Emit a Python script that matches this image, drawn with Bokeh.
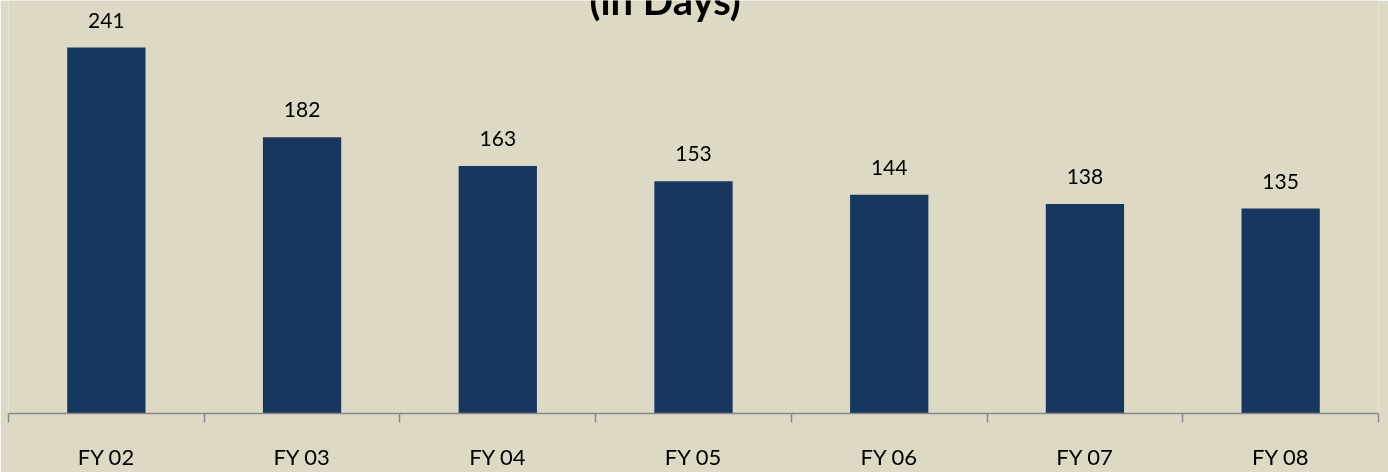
from bokeh.plotting import figure
from bokeh.models import FixedTicker, Range1d, ColumnDataSource, LabelSet, Label
from bokeh.embed import file_html
from bokeh.resources import INLINE
from bokeh.core.properties import value

categories = ["FY 02", "FY 03", "FY 04", "FY 05", "FY 06", "FY 07", "FY 08"]
days = [241, 182, 163, 153, 144, 138, 135]
title_text = "(in Days)"

BG = "#DDD9C4"
BAR = "#17375E"
AXIS = "#898989"
FONT = "Lato"

n = len(categories)
xs = list(range(n))
source = ColumnDataSource(dict(x=xs, top=days, label=[str(v) for v in days]))

p = figure(width=1388, height=472, output_backend="svg", toolbar_location=None,
           x_range=Range1d(-0.5, n - 0.5), y_range=Range1d(0, 272),
           min_border_left=8, min_border_right=10, min_border_top=0, min_border_bottom=59,
           background_fill_color=BG, border_fill_color=BG, outline_line_color=None)
p.styles = {"position": "fixed", "left": "0px", "top": "0px"}

p.vbar(x="x", top="top", width=0.4, source=source, fill_color=BAR, line_color=None)

labels = LabelSet(x="x", y="top", text="label", source=source, y_offset=20,
                  text_align="center", text_baseline="alphabetic",
                  text_font=value(FONT), text_font_size="21px", text_color="#000000")
p.add_layout(labels)

title = Label(x=2.855, y=272.3, text=title_text, text_align="center", text_baseline="alphabetic",
              text_font=FONT, text_font_size="40px", text_font_style="bold", text_color="#000000")
p.add_layout(title)

p.grid.visible = False
p.yaxis.visible = False

ax = p.xaxis[0]
ax.ticker = FixedTicker(ticks=xs, minor_ticks=[i - 0.5 for i in range(n + 1)])
ax.major_label_overrides = {i: c for i, c in zip(xs, categories)}
ax.major_tick_line_color = None
ax.major_tick_in = 0
ax.major_tick_out = 0
ax.minor_tick_in = 0
ax.minor_tick_out = 9
ax.minor_tick_line_color = AXIS
ax.minor_tick_line_width = 1.5
ax.axis_line_color = AXIS
ax.axis_line_width = 1.5
ax.major_label_standoff = 20
ax.major_label_text_font = FONT
ax.major_label_text_font_size = "22px"
ax.major_label_text_color = "#000000"

open("out.html", "w").write(file_html(p, INLINE))
